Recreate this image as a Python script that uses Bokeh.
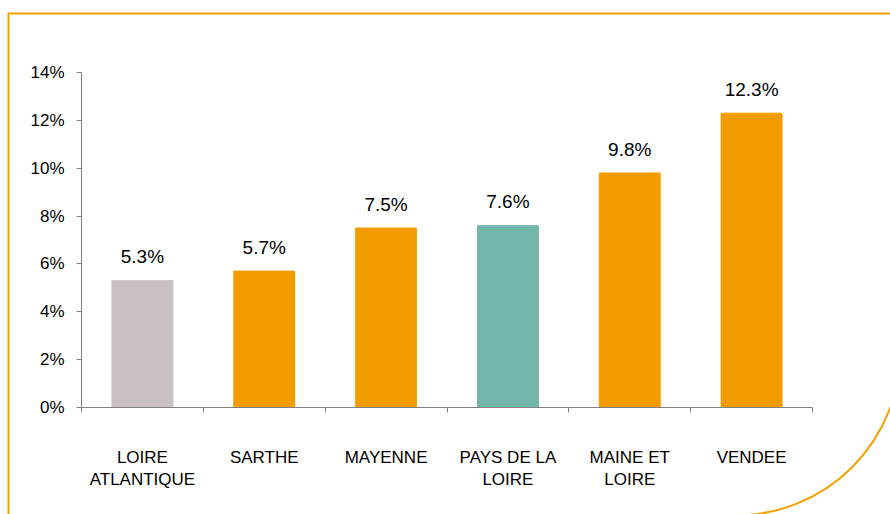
import numpy as np
from bokeh.plotting import figure
from bokeh.models import (ColumnDataSource, Range1d, FixedTicker, PrintfTickFormatter,
                          BoxAnnotation, LinearAxis)
from bokeh.core.properties import value
from bokeh.embed import file_html
from bokeh.resources import INLINE

# ---- data ----
categories = ["LOIRE\nATLANTIQUE", "SARTHE", "MAYENNE", "PAYS DE LA\nLOIRE", "MAINE ET\nLOIRE", "VENDEE"]
rates = [5.3, 5.7, 7.5, 7.6, 9.8, 12.3]
y_ticks = [0, 2, 4, 6, 8, 10, 12, 14]

# ---- styles / layout ----
bar_colors = ["#C9C1C1", "#F39C00", "#F39C00", "#72B6AA", "#F39C00", "#F39C00"]
FONT = "Liberation Sans"
ORANGE = "#F2A000"
AXIS_COLOR = "#808080"
W, H = 890, 514
PLOT_L, PLOT_R, PLOT_T, PLOT_B = 81, 812, 72, 407   # pixel box of the plotting area

n = len(categories)
y_max = y_ticks[-1]
# the frame covers the whole canvas; extend the ranges so that the plotting area lands on the box above
xs = (PLOT_R - PLOT_L) / n
ys = (PLOT_B - PLOT_T) / y_max
x_range = Range1d(-PLOT_L / xs, n + (W - PLOT_R) / xs)
y_range = Range1d(-(H - PLOT_B) / ys, y_max + PLOT_T / ys)

xpos = np.arange(n) + 0.5
src = ColumnDataSource(dict(
    x=xpos,
    top=rates,
    color=bar_colors,
    label=[f"{v:.1f}%" for v in rates],
))

p = figure(width=W, height=H, output_backend="svg", toolbar_location=None,
           x_range=x_range, y_range=y_range,
           x_axis_type=None, y_axis_type=None, min_border=0)
p.outline_line_color = None
p.background_fill_color = "white"
p.border_fill_color = "white"
p.xgrid.visible = False
p.ygrid.visible = False

p.vbar(x="x", top="top", width=0.5, color="color", source=src)
p.text(x="x", y="top", text="label", source=src, text_align="center",
       text_baseline="alphabetic", y_offset=-24, text_font=value(FONT),
       text_font_size="19px", text_color="#000000")

yaxis = LinearAxis(ticker=FixedTicker(ticks=y_ticks), formatter=PrintfTickFormatter(format="%d%%"),
                   fixed_location=0, bounds=(0, y_max))
yaxis.axis_line_color = AXIS_COLOR
yaxis.major_tick_line_color = AXIS_COLOR
yaxis.major_tick_in = 0
yaxis.major_tick_out = 5
yaxis.minor_tick_line_color = None
yaxis.major_label_standoff = 12
yaxis.major_label_text_font = FONT
yaxis.major_label_text_font_size = "17px"
yaxis.major_label_text_color = "#000000"
p.add_layout(yaxis, "left")

xaxis = LinearAxis(ticker=FixedTicker(ticks=list(xpos), minor_ticks=list(range(n + 1))),
                   fixed_location=0, bounds=(0, n))
xaxis.major_label_overrides = {float(x): c for x, c in zip(xpos, categories)}
xaxis.axis_line_color = AXIS_COLOR
xaxis.major_tick_line_color = None
xaxis.major_tick_in = 0
xaxis.major_tick_out = 5
xaxis.minor_tick_line_color = AXIS_COLOR
xaxis.minor_tick_in = 0
xaxis.minor_tick_out = 5
xaxis.major_label_standoff = 35
xaxis.major_label_text_font = FONT
xaxis.major_label_text_font_size = "17px"
xaxis.major_label_text_color = "#000000"
xaxis.major_label_text_line_height = 1.2
p.add_layout(xaxis, "below")

# decorative orange frame with a rounded bottom-right corner
frame = BoxAnnotation(left=8, right=900, top=13, bottom=515,
                      left_units="canvas", right_units="canvas",
                      top_units="canvas", bottom_units="canvas",
                      fill_color=None, fill_alpha=0, line_color=ORANGE, line_alpha=1,
                      line_width=2, border_radius=(0, 0, 165, 0))
p.add_layout(frame)

open("out.html", "w").write(file_html(p, INLINE))
